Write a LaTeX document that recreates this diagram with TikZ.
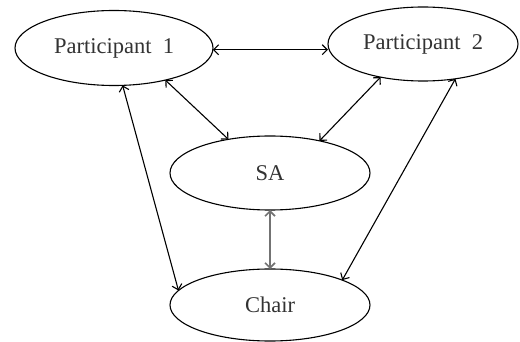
\documentclass[tikz,border=0pt]{standalone}
\usepackage{fontspec}
\setmainfont{Liberation Serif}
\usetikzlibrary{shapes.geometric,arrows.meta}
\begin{document}
\begin{tikzpicture}[x=1pt,y=-1pt,
  ell/.style={draw,ellipse,line width=1.1pt,inner sep=0pt,outer sep=0pt,text=black!80,font=\fontsize{22.5}{26}\selectfont},
  link/.style={line width=1.1pt,{Straight Barb[length=5pt,width=10pt]}-{Straight Barb[length=5pt,width=10pt]}},
  vlink/.style={link,draw=black!55,line width=1.6pt}]
\useasboundingbox (0,0) rectangle (520,342);
\node[ell,minimum width=198pt,minimum height=75pt] (p1) at (114,48) {Participant\ \ 1};
\node[ell,minimum width=190pt,minimum height=74pt] (p2) at (423,44) {Participant\ \ 2};
\node[ell,minimum width=200pt,minimum height=74pt] (sa) at (270,173) {SA};
\node[ell,minimum width=200pt,minimum height=72pt] (chair) at (270,305) {Chair};
\draw[link] (p1.-1.2) -- (p1.-1.2 -| p2.west);
\draw[link] (p1.-32.2) -- (sa.141.2);
\draw[link] (p2.218.3) -- (sa.33.7);
\draw[link] (p1.-77.8) -- (chair.171.3);
\draw[link] (p2.-47) -- (chair.19.9);
\draw[vlink] (sa.south) -- (chair.north);
\end{tikzpicture}
\end{document}
